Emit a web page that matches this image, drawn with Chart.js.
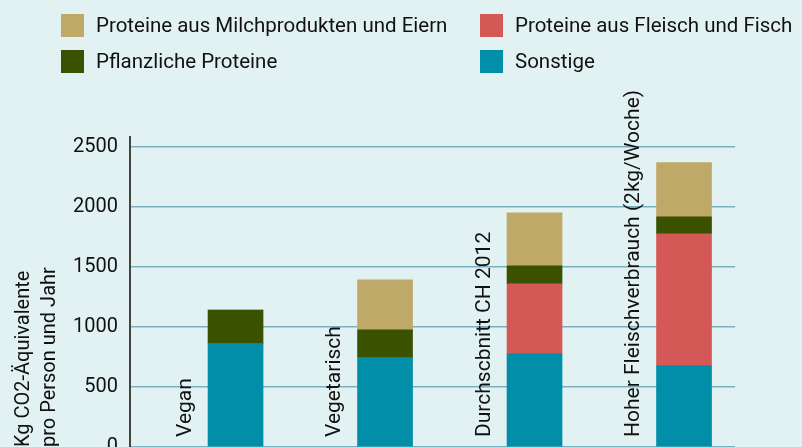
<!DOCTYPE html>
<html>
<head>
<meta charset="utf-8">
<script src="https://cdn.jsdelivr.net/npm/chart.js@4"></script>
<style>
  html, body { margin: 0; padding: 0; background: #e2f2f2; overflow: hidden; width: 802px; height: 447px; }
  #wrap { position: relative; width: 802px; height: 447px; }
  #myChart { position: absolute; left: 0; top: 0; }
  #legend { position: absolute; left: 0; top: 0; font-family: Roboto, sans-serif; font-size: 20.5px; color: #111; }
  .item { position: absolute; height: 23px; line-height: 23px; white-space: nowrap; }
  .box { display: inline-block; width: 23px; height: 23px; vertical-align: top; margin-right: 12px; }
</style>
</head>
<body>
<div id="wrap">
  <canvas id="myChart" width="802" height="480"></canvas>
  <div id="legend"></div>
</div>
<script>
// categories and values (kg CO2-eq per person and year)
let categories = ['Vegan', 'Vegetarisch', 'Durchscbnitt CH 2012', 'Hoher Fleischverbrauch (2kg/Woche)'];
let sonstige   = [860, 743, 776, 676];
let fleisch    = [0, 0, 585, 1102];
let pflanzlich = [281, 234, 150, 142];
let milch      = [0, 417, 442, 451];
let yTicks     = [0, 500, 1000, 1500, 2000, 2500];

function points(arr){
  return arr.map((v, i) => ({x: i, y: v}));
}

// category names written upright next to each bar
const catLabels = {
  id: 'catLabels',
  afterDatasetsDraw(chart){
    const ctx = chart.ctx;
    const xs = chart.scales.x, ys = chart.scales.y;
    ctx.save();
    ctx.font = '21px Roboto';
    ctx.fillStyle = '#111';
    ctx.textAlign = 'left';
    ctx.textBaseline = 'alphabetic';
    categories.forEach((c, i) => {
      ctx.save();
      ctx.translate(xs.getPixelForValue(i) - 45, ys.getPixelForValue(0) - 10);
      ctx.rotate(-Math.PI / 2);
      ctx.fillText(c, 0, 0);
      ctx.restore();
    });
    ctx.restore();
  }
};

const ctx = document.getElementById('myChart');

const chart = new Chart(ctx, {
  type: 'bar',
  data: {
    datasets: [
      { label: 'Sonstige', data: points(sonstige), backgroundColor: '#018ea8' },
      { label: 'Proteine aus Fleisch und Fisch', data: points(fleisch), backgroundColor: '#d45956' },
      { label: 'Pflanzliche Proteine', data: points(pflanzlich), backgroundColor: '#3a5200' },
      { label: 'Proteine aus Milchprodukten und Eiern', data: points(milch), backgroundColor: '#bfa968' }
    ]
  },
  options: {
    responsive: false,
    animation: false,
    barThickness: 55,
    layout: { padding: { left: 11, top: 137, right: 67, bottom: 33 } },
    plugins: { legend: { display: false }, tooltip: { enabled: false } },
    scales: {
      x: {
        type: 'linear',
        stacked: true,
        offset: false,
        min: -0.706,
        max: 3.341,
        display: false
      },
      y: {
        stacked: true,
        min: 0,
        max: 2585,
        afterFit(scale){ scale.width = 119; },
        afterBuildTicks(scale){ scale.ticks = yTicks.map(v => ({value: v})); },
        border: { color: '#444', width: 2 },
        grid: { color: '#78b0c0', lineWidth: 1.5, drawTicks: false },
        ticks: {
          padding: 12,
          color: '#111',
          font: { family: 'Roboto', size: 20 },
          callback: v => String(v)
        },
        title: {
          display: true,
          text: ['Kg CO2-Äquivalente', 'pro Person und Jahr'],
          align: 'start',
          color: '#111',
          padding: 0,
          font: { family: 'Roboto', size: 20, lineHeight: 1.3 }
        }
      }
    }
  },
  plugins: [catLabels]
});

// legend in two columns, built from the datasets
const legendOrder = [3, 1, 2, 0];
const legendPos = [[61, 14], [480, 14], [61, 50], [480, 50]];
const legend = document.getElementById('legend');
legendOrder.forEach((d, k) => {
  const ds = chart.data.datasets[d];
  const item = document.createElement('div');
  item.className = 'item';
  item.style.left = legendPos[k][0] + 'px';
  item.style.top = legendPos[k][1] + 'px';
  item.innerHTML = '<span class="box" style="background:' + ds.backgroundColor + '"></span>' + ds.label;
  legend.appendChild(item);
});
</script>
</body>
</html>
